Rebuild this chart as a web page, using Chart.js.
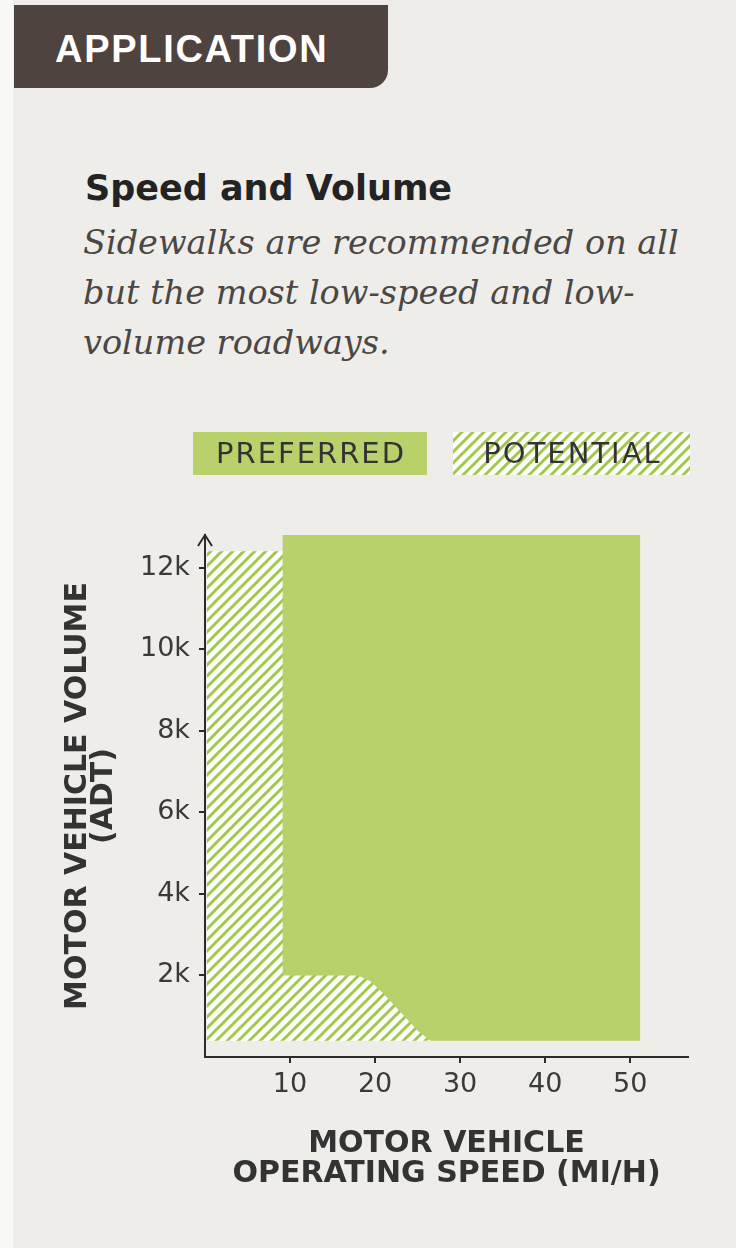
<!DOCTYPE html>
<html lang="en">
<head>
  <meta charset="UTF-8" />
  <meta name="viewport" content="width=device-width, initial-scale=1.0"/>
  <title>Speed and Volume</title>
  <script src="https://cdn.jsdelivr.net/npm/chart.js"></script>
  <style>
    body {
      margin: 0;
      width: 736px;
      height: 1248px;
      background: #efedea;
      position: relative;
      overflow: hidden;
    }
    .edge { position: absolute; left: 0; top: 0; width: 13px; height: 1248px; background: #f8f8f7; }
    .tab {
      position: absolute; left: 14px; top: 5px; width: 374px; height: 83px;
      background: #4f4340; border-bottom-right-radius: 18px;
    }
    .tab span {
      position: absolute; left: 41px; top: 25px;
      color: #fff; font: bold 38px/38px "Liberation Sans", sans-serif; letter-spacing: 1.7px;
    }
    .titulo {
      position: absolute; left: 85px; top: 171px; margin: 0;
      font: bold 35px/35px "DejaVu Sans", sans-serif; color: #232323;
    }
    .sub {
      position: absolute; left: 83px; top: 218px; margin: 0; white-space: nowrap;
      font: italic 33.5px/50px "DejaVu Serif", serif; color: #4a4744;
    }
    .grafico { position: absolute; left: 0; top: 410px; }
  </style>
</head>
<body>
  <div class="edge"></div>
  <div class="tab"><span>APPLICATION</span></div>
  <h2 class="titulo">Speed and Volume</h2>
  <p class="sub">Sidewalks are recommended on all<br>but the most low-speed and low-<br>volume roadways.</p>

  <canvas class="grafico" id="chart" width="736" height="820"></canvas>

  <script>
    // dados (velocidade em mi/h, volume em ADT)
    const speedTicks = [10, 20, 30, 40, 50];
    const volumeTicks = [2000, 4000, 6000, 8000, 10000, 12000];
    const volumeTickLabels = ['2k', '4k', '6k', '8k', '10k', '12k'];

    // borda inferior da área "preferred" (preenchida até o topo)
    const preferredSpeed = [9.1, 18.0, 19.5, 21.0, 23.0, 25.0, 26.5, 51.2];
    const preferredVolume = [2000, 2000, 1850, 1550, 1100, 650, 400, 400];

    // área "potential" (hachurada), por baixo da verde
    const potentialSpeed = [0.2, 27];
    const potentialVolume = [12400, 12400];
    const potentialFloor = 400;

    const seriesNames = ['PREFERRED', 'POTENTIAL'];

    const GREEN = '#b8d16b';
    const HATCH_LINE = '#a2c84a';
    const AXIS = '#2b2b2b';

    const canvas = document.getElementById('chart');
    const ctx = canvas.getContext('2d');

    // padrão de listras diagonais
    function makeHatch() {
      const s = 11;
      const c = document.createElement('canvas');
      c.width = s; c.height = s;
      const g = c.getContext('2d');
      g.fillStyle = '#ffffff';
      g.fillRect(0, 0, s, s);
      g.strokeStyle = HATCH_LINE;
      g.lineWidth = 3;
      g.beginPath();
      g.moveTo(-2, s + 2); g.lineTo(s + 2, -2);
      g.moveTo(-2, 2); g.lineTo(2, -2);
      g.moveTo(s - 2, s + 2); g.lineTo(s + 2, s - 2);
      g.stroke();
      return ctx.createPattern(c, 'repeat');
    }
    const hatch = makeHatch();

    // seta no topo do eixo Y
    const axisArrow = {
      id: 'axisArrow',
      afterDraw(chart) {
        const c = chart.ctx;
        const {left, top} = chart.chartArea;
        c.save();
        c.strokeStyle = AXIS;
        c.lineWidth = 2;
        c.beginPath();
        c.moveTo(left - 7, top + 11);
        c.lineTo(left, top);
        c.lineTo(left + 7, top + 11);
        c.stroke();
        c.restore();
      }
    };

    // legenda com o texto dentro das caixas
    const boxLegend = {
      id: 'boxLegend',
      afterDraw(chart) {
        const c = chart.ctx;
        const boxes = [{x: 193, w: 234}, {x: 453, w: 237}];
        const y = 22, h = 43;
        c.save();
        chart.data.datasets.forEach((ds, i) => {
          const b = boxes[i];
          c.fillStyle = ds.backgroundColor;
          c.fillRect(b.x, y, b.w, h);
          c.fillStyle = '#333333';
          c.font = '29px "DejaVu Sans"';
          c.letterSpacing = '2px';
          c.textAlign = 'center';
          c.textBaseline = 'middle';
          c.fillText(ds.label, b.x + b.w / 2 + 1, y + h / 2 + 2);
        });
        c.restore();
      }
    };

    const chart = new Chart(ctx, {
      type: 'line',
      data: {
        datasets: [
          {
            label: seriesNames[0],
            data: preferredSpeed.map((x, i) => ({x: x, y: preferredVolume[i]})),
            backgroundColor: GREEN,
            borderColor: 'rgba(0,0,0,0)',
            borderWidth: 0,
            pointRadius: 0,
            tension: 0,
            fill: 'end'
          },
          {
            label: seriesNames[1],
            data: potentialSpeed.map((x, i) => ({x: x, y: potentialVolume[i]})),
            backgroundColor: hatch,
            borderColor: 'rgba(0,0,0,0)',
            borderWidth: 0,
            pointRadius: 0,
            tension: 0,
            fill: {value: potentialFloor}
          }
        ]
      },
      options: {
        responsive: false,
        animation: false,
        devicePixelRatio: 1,
        layout: { padding: {top: 125, right: 48, bottom: 41, left: 0} },
        plugins: {
          legend: { display: false },
          tooltip: { enabled: false }
        },
        scales: {
          x: {
            type: 'linear',
            min: 0,
            max: 56.8,
            afterBuildTicks: s => { s.ticks = speedTicks.map(v => ({value: v})); },
            afterFit: s => { s.height = 132; },
            ticks: {
              color: '#3a3a3a',
              font: {family: 'DejaVu Sans', size: 27},
              padding: 6,
              maxRotation: 0,
              autoSkip: false
            },
            grid: { drawOnChartArea: false, color: AXIS, lineWidth: 2, tickLength: 6 },
            border: { color: AXIS, width: 2 },
            title: {
              display: true,
              text: ['MOTOR VEHICLE', 'OPERATING SPEED (MI/H)'],
              color: '#333333',
              font: {family: 'DejaVu Sans', size: 30, weight: 'bold', lineHeight: 1},
              padding: {top: 0, bottom: 0}
            }
          },
          y: {
            type: 'linear',
            min: 0,
            max: 12800,
            afterBuildTicks: s => { s.ticks = volumeTicks.map(v => ({value: v})); },
            afterFit: s => { s.width = 205; },
            ticks: {
              color: '#3a3a3a',
              font: {family: 'DejaVu Sans', size: 27},
              padding: 9,
              autoSkip: false,
              callback: v => volumeTickLabels[volumeTicks.indexOf(v)]
            },
            grid: { drawOnChartArea: false, color: AXIS, lineWidth: 2, tickLength: 6 },
            border: { color: AXIS, width: 2 },
            title: {
              display: true,
              text: ['MOTOR VEHICLE VOLUME', '(ADT)'],
              color: '#333333',
              font: {family: 'DejaVu Sans', size: 30, weight: 'bold', lineHeight: 0.87},
              padding: {top: 65, bottom: 0}
            }
          }
        }
      },
      plugins: [axisArrow, boxLegend]
    });
  </script>
</body>
</html>
